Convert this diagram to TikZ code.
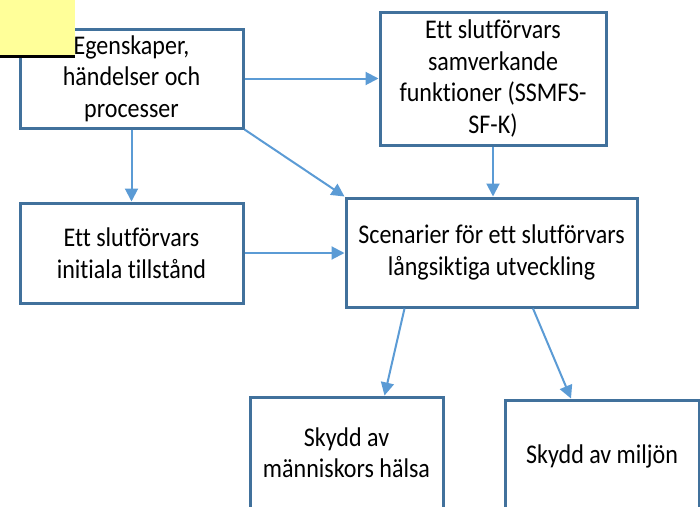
\documentclass[tikz,border=0pt]{standalone}
\usepackage{fontspec}
\setmainfont{Carlito}[Ligatures=CommonOff,FakeStretch=0.89]
\usetikzlibrary{arrows.meta}
\definecolor{boxline}{RGB}{65,113,156}
\definecolor{arrowblue}{RGB}{91,155,213}
\definecolor{notepad}{RGB}{255,255,153}

\tikzset{
  box/.style={draw=boxline,line width=3pt,fill=white,align=center,inner sep=1.5pt,font=\fontsize{27}{31.5}\selectfont},
  flow/.style={draw=arrowblue,line width=2pt,-{Triangle[length=13pt,width=13pt]}}
}

\begin{document}
\begin{tikzpicture}[x=1pt,y=1pt,yscale=-1]

\useasboundingbox (0,0) rectangle (700,506);
\clip (0,0) rectangle (700,506);

% Boxes
\node [box,minimum width=223,minimum height=99] (egen) at (131.5,78.5) {Egenskaper,\\ händelser och\\ processer};
\node [box,minimum width=226,minimum height=133] (ssmfs) at (493,78.5) {Ett slutförvars\\ samverkande\\ funktioner (SSMFS-\\ SF-K)};
\node [box,minimum width=223,minimum height=100] (init) at (131.5,253) {Ett slutförvars\\ initiala tillstånd};
\node [box,minimum width=291,minimum height=109] (scen) at (491.5,252.5) {Scenarier för ett slutförvars\\ långsiktiga utveckling};
\node [box,minimum width=193,minimum height=111] (halsa) at (346.5,452.5) {Skydd av\\ människors hälsa};
\node [box,minimum width=194,minimum height=112] (miljo) at (602,456) {Skydd av miljön};

% Arrows
\draw [flow] (egen.east) -- (ssmfs.west |- egen.east);
\draw [flow] (egen.south) -- (init.north);
\draw [flow] (egen.south east) -- (scen.north west);
\draw [flow] (ssmfs.south) -- (ssmfs.south |- scen.north);
\draw [flow] (init.east) -- (scen.west |- init.east);
\draw [flow] ([xshift=-87pt]scen.south) -- ([xshift=38pt]halsa.north);
\draw [flow] ([xshift=41.5pt]scen.south) -- ([xshift=-31pt]miljo.north);

% Yellow note
\fill [notepad] (0,0) rectangle (75,56);
\draw [line width=3pt] (0,56) -- (75,56);

\end{tikzpicture}
\end{document}
